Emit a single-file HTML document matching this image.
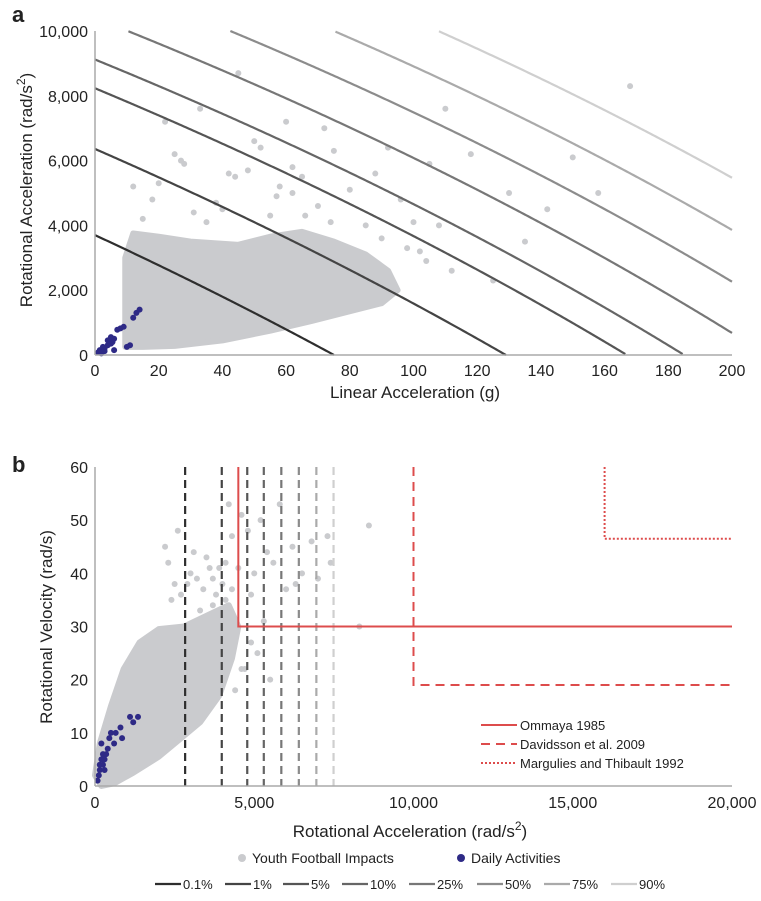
<!DOCTYPE html>
<html><head><meta charset="utf-8"><style>
body{margin:0;background:#fff}
svg{display:block;font-family:"Liberation Sans",Arial,sans-serif}
</style></head><body>
<svg id="chart" width="761" height="901" viewBox="0 0 761 901"></svg>
<script>
// ---- Panel a data ----
const aXTicks=[0,20,40,60,80,100,120,140,160,180,200];
const aYTicks=[0,2000,4000,6000,8000,10000];
const riskLabels=["0.1%","1%","5%","10%","25%","50%","75%","90%"];
const riskConst=[3700,6360,8233,9120,10404,11670,12948,14236];
const riskColors=["#2e2e2e","#444","#555","#666","#777","#8c8c8c","#aaa","#cfcfcf"];
const linCoef=49.3, interCoef=-0.001;
const aCloud=[[9.5,250],[9.5,3000],[12,3750],[20,3650],[30,3500],[45,3400],[55,3650],[65,3800],[75,3500],[85,3100],[92,2600],[95,2000],[90,1600],[80,1350],[68,1050],[55,750],[40,450],[25,280],[15,250]];
const aOutX=[12,15,20,22,25,28,31,33,35,38,40,42,45,48,50,52,55,58,60,62,65,70,72,75,80,85,88,92,96,100,102,105,108,112,118,125,130,135,142,150,158,168,110,90,85,62,57,18,27,44,98,104,66,74];
const aOutY=[5200,4200,5300,7200,6200,5900,4400,7600,4100,4700,4500,5600,8700,5700,6600,6400,4300,5200,7200,5000,5500,4600,7000,6300,5100,4000,5600,6400,4800,4100,3200,5900,4000,2600,6200,2300,5000,3500,4500,6100,5000,8300,7600,3600,3000,5800,4900,4800,6000,5500,3300,2900,4300,4100];
const aDailyX=[1,1.5,2,3,3,4,4,5,5,6,6,7,8,9,10,12,13,14,11,2.5,5.5];
const aDailyY=[80,150,50,200,120,300,450,350,550,500,150,780,820,870,250,1150,1300,1400,300,250,400];
// ---- Panel b data ----
const bXTicks=[0,5000,10000,15000,20000];
const bYTicks=[0,10,20,30,40,50,60];
const bRiskX=[2830,3980,4780,5300,5850,6400,6950,7490];
const bCloud=[[200,0],[0,2],[150,8],[500,15],[900,22],[1400,27],[2000,29.5],[2800,30],[3500,32],[4200,34],[4500,30],[4300,24],[3900,17],[3300,12],[2700,9],[2000,5.5],[1200,2.5],[600,0.5]];
const bOutX=[2200,2300,2600,2900,3100,3500,3700,3900,4100,4200,4300,4600,4800,4900,5000,5200,5400,5600,5800,6000,6200,6500,6800,7000,7300,7400,8600,8300,4700,5100,5500,6300,4900,5300,4400,3300,2700,2500,3000,3400,3600,3800,4000,4100,2400,3200,3700,4300,4500,4600];
const bOutY=[45,42,48,38,44,43,39,41,35,53,47,51,48,36,40,50,44,42,53,37,45,40,46,39,47,42,49,30,22,25,20,38,27,31,18,33,36,38,40,37,41,36,38,42,35,39,34,37,41,22];
const bDailyX=[80,120,150,200,250,300,200,350,400,450,500,600,800,850,1100,1200,1350,150,250,300,650];
const bDailyY=[1,2,4,5,6,3,8,6,7,9,10,8,11,9,13,12,13,3,4,5,10];
const refNames=["Ommaya 1985","Davidsson et al. 2009","Margulies and Thibault 1992"];
const refX=[4500,10000,16000];
const refY=[30,19,46.5];
const refDash=["none","9 6","2 2"];

const svg=document.getElementById('chart');
const NS='http://www.w3.org/2000/svg';
function mk(tag,attrs,parent){const e=document.createElementNS(NS,tag);for(const k in attrs)e.setAttribute(k,attrs[k]);(parent||svg).appendChild(e);return e;}

const ax=v=>95+v*(732-95)/200, ay=v=>355-v*(355-31)/10000;
const bx=v=>95+v*(732-95)/20000, by=v=>786-v*(786-467)/60;

// ---- Panel a ----
let t=mk('text',{x:12,y:22,'font-size':22,'font-weight':'bold',fill:'#222'});t.textContent='a';


let g=mk('g',{});


mk('polygon',{points:aCloud.map(p=>ax(p[0])+','+ay(p[1])).join(' '),fill:'#cacbce',stroke:'#cacbce','stroke-width':6,'stroke-linejoin':'round'},g);
aOutX.forEach((x,i)=>{const c=mk('circle',{cx:ax(x),cy:ay(aOutY[i]),r:3,fill:'#cacbce'},g);

});
riskConst.forEach((C,i)=>{let pts=[];for(let x=0;x<=200;x+=0.5){let y=(C-linCoef*x)/(1+interCoef*x);if(y<0||y>10000)continue;pts.push(ax(x)+','+ay(y));}
let p=mk('polyline',{points:pts.join(' '),fill:'none',stroke:riskColors[i],'stroke-width':2.2});

});
aDailyX.forEach((x,i)=>{const c=mk('circle',{cx:ax(x),cy:ay(aDailyY[i]),r:3,fill:'#2e2a86'});

});
mk('line',{x1:95,y1:31,x2:95,y2:355,stroke:'#aaa','stroke-width':1.5});
mk('line',{x1:95,y1:355,x2:732,y2:355,stroke:'#aaa','stroke-width':1.5});
aXTicks.forEach(v=>{const e=mk('text',{x:ax(v),y:376,'font-size':16,'text-anchor':'middle',fill:'#222'});e.textContent=v;

});
aYTicks.forEach(v=>{const e=mk('text',{x:88,y:ay(v)+6,'font-size':16,'text-anchor':'end',fill:'#222'});e.textContent=v.toLocaleString('en-US');

});
t=mk('text',{x:415,y:398,'font-size':17,'text-anchor':'middle',fill:'#222'});t.textContent='Linear Acceleration (g)';


t=mk('text',{x:0,y:0,'font-size':17,'text-anchor':'middle',fill:'#222',transform:'translate(32,190) rotate(-90)'});
t.innerHTML='Rotational Acceleration (rad/s<tspan dy="-7" font-size="12">2</tspan><tspan dy="7">)</tspan>';



// ---- Panel b ----
t=mk('text',{x:12,y:472,'font-size':22,'font-weight':'bold',fill:'#222'});t.textContent='b';


g=mk('g',{});


mk('polygon',{points:bCloud.map(p=>bx(p[0])+','+by(p[1])).join(' '),fill:'#cacbce',stroke:'#cacbce','stroke-width':6,'stroke-linejoin':'round'},g);
bOutX.forEach((x,i)=>{const c=mk('circle',{cx:bx(x),cy:by(bOutY[i]),r:3,fill:'#cacbce'},g);

});
bRiskX.forEach((x,i)=>{const l=mk('line',{x1:bx(x),y1:by(60),x2:bx(x),y2:by(0),stroke:riskColors[i],'stroke-width':2.2,'stroke-dasharray':'8 5'});

});
refX.forEach((x,i)=>{const p=mk('polyline',{points:`${bx(x)},${by(60)} ${bx(x)},${by(refY[i])} ${bx(20000)},${by(refY[i])}`,fill:'none',stroke:'#dd4c4c','stroke-width':2,'stroke-dasharray':refDash[i]});

});
bDailyX.forEach((x,i)=>{const c=mk('circle',{cx:bx(x),cy:by(bDailyY[i]),r:3,fill:'#2e2a86'});

});
mk('line',{x1:95,y1:467,x2:95,y2:786,stroke:'#aaa','stroke-width':1.5});
mk('line',{x1:95,y1:786,x2:732,y2:786,stroke:'#aaa','stroke-width':1.5});
bXTicks.forEach(v=>{const e=mk('text',{x:bx(v),y:808,'font-size':16,'text-anchor':'middle',fill:'#222'});e.textContent=v.toLocaleString('en-US');

});
bYTicks.forEach(v=>{const e=mk('text',{x:88,y:by(v)+6,'font-size':16,'text-anchor':'end',fill:'#222'});e.textContent=v;

});
t=mk('text',{x:410,y:837,'font-size':17,'text-anchor':'middle',fill:'#222'});
t.innerHTML='Rotational Acceleration (rad/s<tspan dy="-7" font-size="12">2</tspan><tspan dy="7">)</tspan>';


t=mk('text',{x:0,y:0,'font-size':17,'text-anchor':'middle',fill:'#222',transform:'translate(52,627) rotate(-90)'});t.textContent='Rotational Velocity (rad/s)';


refNames.forEach((n,i)=>{const y=725+i*19;
const l=mk('line',{x1:481,y1:y,x2:517,y2:y,stroke:'#dd4c4c','stroke-width':2,'stroke-dasharray':refDash[i]});


const e=mk('text',{x:520,y:y+5,'font-size':13,fill:'#222'});e.textContent=n;

});
mk('circle',{cx:242,cy:858,r:4,fill:'#cacbce'});
t=mk('text',{x:252,y:863,'font-size':14,fill:'#222'});t.textContent='Youth Football Impacts';


mk('circle',{cx:461,cy:858,r:4,fill:'#2e2a86'});
t=mk('text',{x:471,y:863,'font-size':14,fill:'#222'});t.textContent='Daily Activities';


const legX=[155,225,283,342,409,477,544,611];
riskLabels.forEach((n,i)=>{const l=mk('line',{x1:legX[i],y1:884,x2:legX[i]+26,y2:884,stroke:riskColors[i],'stroke-width':2.2});


const e=mk('text',{x:legX[i]+28,y:889,'font-size':13,fill:'#222'});e.textContent=n;

});
</script>
</body></html>
